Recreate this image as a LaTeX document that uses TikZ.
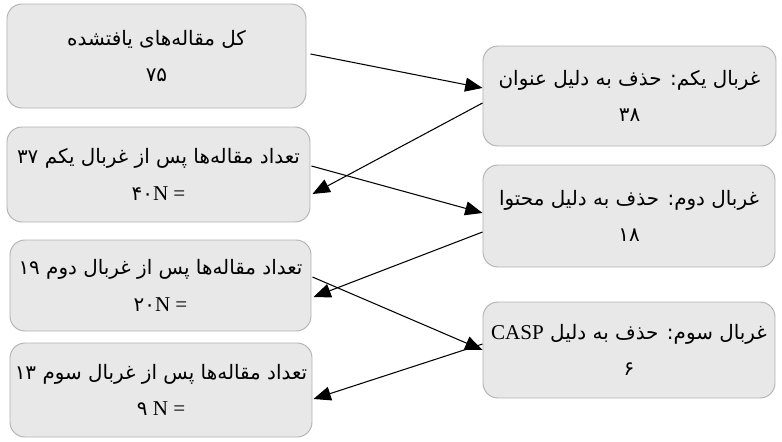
\documentclass[tikz,border=0pt]{standalone}
\usepackage{fontspec}
\setmainfont{Liberation Serif}
\newfontfamily\fafont[Script=Arabic]{DejaVu Sans}
\usetikzlibrary{arrows.meta}
\usetikzlibrary{calc}
\TeXXeTstate=1
\definecolor{boxfill}{rgb}{0.91, 0.91, 0.91}
\definecolor{boxline}{rgb}{0.70, 0.70, 0.70}
\tikzset{stage/.style = {draw=boxline, fill=boxfill, rounded corners=0.45cm,
                         line width=0.8pt, align=center, inner sep=0pt,
                         font=\fontsize{18}{31}\selectfont}}
\tikzset{flow/.style = {-{Triangle[length=0.52cm, width=0.42cm]}, line width=0.9pt}}
\newcommand{\fa}[1]{{\fafont\fontsize{17}{31}\selectfont\beginR #1\endR}}
\newcommand{\fanum}[1]{{\fafont\fontsize{17}{31}\selectfont #1}}

\begin{document}
\begin{tikzpicture}[x=0.03cm, y=-0.03cm]
      \useasboundingbox (0, 0) rectangle (782, 441);

      % left column
      \node [stage, minimum width=8.97cm, minimum height=3.12cm] (total) at (156.5, 56)
            {\fa{کل مقاله‌های یافتشده}\\ \fanum{۷۵}};
      \node [stage, minimum width=9.09cm, minimum height=2.85cm] (after1) at (158.5, 174.5)
            {\fa{تعداد مقاله‌ها پس از غربال یکم \beginL۳۷\endL}\\ \fanum{۴۰}N =};
      \node [stage, minimum width=9.03cm, minimum height=2.73cm] (after2) at (160.5, 285.5)
            {\fa{تعداد مقاله‌ها پس از غربال دوم \beginL۱۹\endL}\\ \fanum{۲۰}N =};
      \node [stage, minimum width=9.06cm, minimum height=2.82cm] (after3) at (161, 390)
            {\fa{تعداد مقاله‌ها پس از غربال سوم \beginL۱۳\endL}\\ \fanum{۹} N =};

      % right column
      \node [stage, minimum width=8.79cm, minimum height=3.0cm] (screen1) at (629.5, 96)
            {\fa{غربال یکم: حذف به دلیل عنوان}\\ \fanum{۳۸}};
      \node [stage, minimum width=8.76cm, minimum height=3.06cm] (screen2) at (629, 216)
            {\fa{غربال دوم: حذف به دلیل محتوا}\\ \fanum{۱۸}};
      \node [stage, minimum width=8.76cm, minimum height=2.88cm] (screen3) at (629, 350)
            {\fa{غربال سوم: حذف به دلیل \beginL{\fontsize{18}{31}\selectfont\rmfamily CASP}\endL}\\ \fanum{۶}};

      \draw [flow] ($(total.east)+(4, -2)$) -- ($(screen1.west)+(0, -8)$);
      \draw [flow] ($(screen1.west)+(0, 7)$) -- ($(after1.east)+(2, 19.5)$);

      \draw [flow] ($(after1.east)+(1, -8.5)$) -- ($(screen2.west)+(0, -3)$);
      \draw [flow] ($(screen2.west)+(0, 16)$) -- ($(after2.east)+(2, 11.5)$);

      \draw [flow] ($(after2.east)+(1, -8.5)$) -- ($(screen3.west)+(0, 0)$);
      \draw [flow] ($(screen3.west)+(0, -6)$) -- ($(after3.east)+(1, 9)$);
    \end{tikzpicture}
\end{document}
